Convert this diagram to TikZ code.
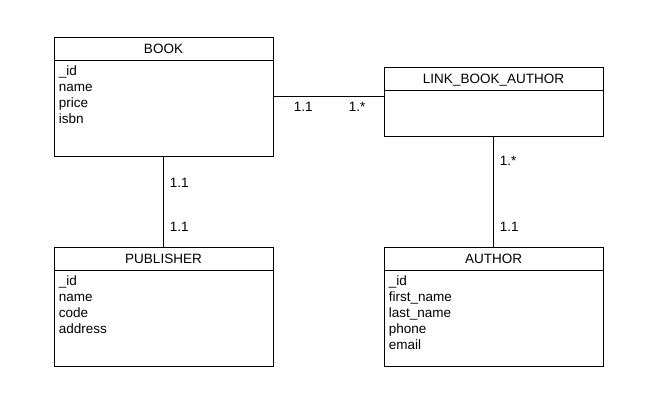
\documentclass[tikz,border=0pt]{standalone}
\usepackage{fontspec}
\setmainfont{Liberation Sans}
\usetikzlibrary{positioning}

\def\w{219}
\def\hh{23}

\tikzset{
  entity/.style={draw,line width=0.8pt,minimum width=\w pt,inner sep=0pt},
  title/.style={draw,line width=0.8pt,minimum width=\w pt,minimum height=\hh pt,anchor=north,inner sep=0pt,text depth=0pt,text height=11pt},
  fields/.style={anchor=north west,align=left,inner sep=0pt,font=\fontsize{13.5}{16}\selectfont},
  mult/.style={inner sep=1pt,font=\fontsize{13.5}{16}\selectfont}
}

\begin{document}
\begin{tikzpicture}[x=1pt,y=-1pt,font=\fontsize{13.5}{16}\selectfont]
\useasboundingbox (0,0) rectangle (662,406);
% entities
\node[entity,minimum height=119pt] (book) at (163.5,96.5) {};
\node[title] (bookt) at (book.north) {BOOK};
\node[fields] (bookf) at ([xshift=5pt,yshift=-5pt]bookt.south west) {\_id\\name\\price\\isbn};

\node[entity,minimum height=69pt] (link) at (493.5,101.5) {};
\node[title] (linkt) at (link.north) {LINK\_BOOK\_AUTHOR};

\node[entity,minimum height=119pt] (pub) at (163.5,306.5) {};
\node[title] (pubt) at (pub.north) {PUBLISHER};
\node[fields] (pubf) at ([xshift=5pt,yshift=-5pt]pubt.south west) {\_id\\name\\code\\address};

\node[entity,minimum height=119pt] (auth) at (493.5,306.5) {};
\node[title] (autht) at (auth.north) {AUTHOR};
\node[fields] (authf) at ([xshift=5pt,yshift=-5pt]autht.south west) {\_id\\first\_name\\last\_name\\phone\\email};

% relations
\draw[line width=0.8pt] (book.east) -- (link.west |- book.east)
  node[mult,pos=0.27,below=4pt] {1.1}
  node[mult,pos=0.76,below=4pt] {1.*};
\draw[line width=0.8pt] (book.south) -- (pub.north)
  node[mult,pos=0.29,right=5pt] {1.1}
  node[mult,pos=0.78,right=5pt] {1.1};
\draw[line width=0.8pt] (link.south) -- (auth.north)
  node[mult,pos=0.22,right=5pt] {1.*}
  node[mult,pos=0.82,right=5pt] {1.1};
\end{tikzpicture}
\end{document}
